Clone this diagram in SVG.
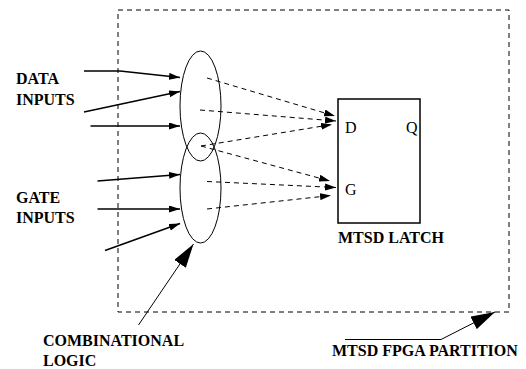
<svg xmlns="http://www.w3.org/2000/svg" width="526" height="369" viewBox="0 0 526 369">
<style>
.lbl{font-family:"Liberation Serif","Times New Roman",serif;font-weight:bold;font-size:16px;fill:#000}
.pin{font-family:"Liberation Serif","Times New Roman",serif;font-size:16px;fill:#000}
.sol{fill:none;stroke:#000;stroke-width:1.5}
.thin{fill:none;stroke:#000;stroke-width:1}
.dash{fill:none;stroke:#000;stroke-width:1;stroke-dasharray:5 4}
</style>
<defs>
<marker id="ah" markerUnits="userSpaceOnUse" markerWidth="11" markerHeight="7" refX="11" refY="3.5" orient="auto">
<path d="M0,0 L11,3.5 L0,7 z" fill="#000"/>
</marker>
<marker id="big" markerUnits="userSpaceOnUse" markerWidth="24" markerHeight="14" refX="24" refY="7" orient="auto">
<path d="M0,0 L24,7 L0,14 z" fill="#000"/>
</marker>
</defs>
<g id="partition">
<rect x="118" y="10" width="391" height="302" class="dash"/>
</g>
<g id="data-logic">
<ellipse cx="200.5" cy="106" rx="20.5" ry="55" class="thin"/>
</g>
<g id="gate-logic">
<ellipse cx="200.5" cy="188" rx="20.5" ry="55" class="thin"/>
</g>
<g id="latch">
<rect x="338" y="99" width="82" height="124" fill="#fff" stroke="#000" stroke-width="1.5"/>
<text x="345" y="133" class="pin">D</text>
<text x="406" y="133" class="pin">Q</text>
<text x="345" y="195" class="pin">G</text>
<text x="338" y="243" class="lbl">MTSD LATCH</text>
</g>
<g id="labels">
<text x="16" y="84" class="lbl">DATA</text>
<text x="16" y="105" class="lbl">INPUTS</text>
<text x="16" y="202.5" class="lbl">GATE</text>
<text x="16" y="223" class="lbl">INPUTS</text>
<text x="43" y="346" class="lbl">COMBINATIONAL</text>
<text x="43" y="365.5" class="lbl">LOGIC</text>
<text x="332" y="356" class="lbl">MTSD FPGA PARTITION</text>
</g>
<g id="connectors">
<polyline points="84,71 120,71 180,77.5" class="sol" marker-end="url(#ah)"/>
<line x1="84" y1="112" x2="180" y2="91.5" class="sol" marker-end="url(#ah)"/>
<line x1="90.5" y1="126" x2="180" y2="126" class="sol" marker-end="url(#ah)"/>
<line x1="97.5" y1="181" x2="180" y2="174.5" class="sol" marker-end="url(#ah)"/>
<line x1="97.5" y1="209" x2="180" y2="209" class="sol" marker-end="url(#ah)"/>
<line x1="105" y1="250.5" x2="180" y2="223.5" class="sol" marker-end="url(#ah)"/>
<line x1="207" y1="78" x2="335" y2="116" class="dash" marker-end="url(#ah)"/>
<line x1="200" y1="110" x2="336" y2="121" class="dash" marker-end="url(#ah)"/>
<line x1="201" y1="146" x2="332" y2="124.5" class="dash" marker-end="url(#ah)"/>
<line x1="201" y1="146" x2="330" y2="181" class="dash" marker-end="url(#ah)"/>
<line x1="207" y1="181.5" x2="336" y2="187.5" class="dash" marker-end="url(#ah)"/>
<line x1="207" y1="209" x2="331" y2="195.5" class="dash" marker-end="url(#ah)"/>
<line x1="138.5" y1="325" x2="193.5" y2="244" class="thin" marker-end="url(#big)"/>
<polyline points="345,339.5 441,339.5 495,312" class="thin" marker-end="url(#big)"/>
</g>
</svg>
